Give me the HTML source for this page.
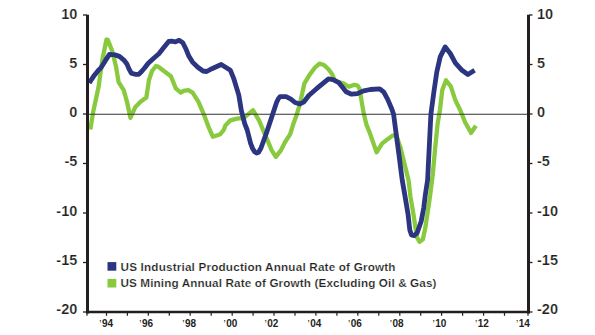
<!DOCTYPE html>
<html><head><meta charset="utf-8"><style>
html,body{margin:0;padding:0;background:#fff;width:595px;height:335px;overflow:hidden}
svg{display:block}
text{font-family:"Liberation Sans",sans-serif;font-weight:bold;fill:#231f20}
.yl{font-size:14.5px;stroke:#fff;stroke-width:0.2px}
.xl{font-size:10px}
.lg{font-size:11.7px;stroke:#fff;stroke-width:0.2px}
</style></head><body>
<svg width="595" height="335" viewBox="0 0 595 335">
<polyline points="90.3,129.5 93.2,111.9 95.9,99.3 98.6,86.8 99.8,78 102.5,59 106.5,39.5 107.8,39.8 112.2,51 116.1,67 118.6,82.1 123.7,90.1 127,101.8 130.4,117.8 135.4,106.9 140.5,101.8 146.3,97.6 148,86.7 148.9,80.4 152,71 156,66 158,66.5 164.9,71.8 170.9,76.3 175.8,88.4 180.8,92.6 183.4,90.9 188.4,90.1 192.6,92.6 198.5,101.8 203.5,113.6 208.6,127.1 212.8,136.7 220.3,134.2 223.7,130 225.4,125.4 230.4,120.3 237.1,118.7 243.9,117.8 248.9,113.6 253.1,110.3 259,120.3 264,132.1 267.4,140.1 271.6,150.2 275.8,156.9 280.9,150.4 285.1,142 290.1,134.4 293.5,123.5 296,116.8 299.2,106.3 301.6,96.2 304.3,83.7 309.7,74.6 315,67.5 319.5,63.6 324,65 328.5,69.3 332,74 334.7,80.2 338.1,82.1 343.4,83.4 348.8,86.8 354.2,84.8 357.6,85.5 359.6,88.8 360.9,96.9 362.9,109 364.1,115.1 366.6,125.2 369.5,132.1 376.6,152.3 382,143.6 387.3,139.4 392.7,135.5 396.1,134.8 400.5,147.8 408.5,180 410.5,197 413,211.4 415.5,227.8 417.1,237.7 419.6,241.8 422.9,239.3 425.3,227.8 427.8,211.4 430.2,195 432.7,175 435.2,147.8 437.6,123.9 440,109.6 442.3,90.1 446,80.3 450.8,86.3 455.5,100.6 460.3,110.2 465.1,122.2 471.1,132.9 475.9,125.7" fill="none" stroke="#89c93e" stroke-width="4.3" stroke-linejoin="round" stroke-linecap="butt"/>
<line x1="89" y1="114.2" x2="527" y2="114.2" stroke="#333" stroke-width="1.1"/>
<polyline points="89.2,83 94.4,75.2 98.4,70.3 101.1,67.6 105.2,60.9 109.4,54.4 114.9,54.9 119.4,56.4 123.9,60.1 126.9,63.9 129.1,69.1 131.3,73.1 135.1,74.3 138.8,74.3 141.8,71.3 144.8,67.8 148,63.5 153.7,58.3 158.9,53.8 163.4,48 168.7,41.5 171.6,41.2 175.4,41.9 179.1,40.3 182.8,42.7 185.8,48.7 188.8,56.1 192.5,62.1 197.8,67.3 203,71 206.7,71.5 211.9,68.7 221.2,64.5 230.4,70.3 233.8,78.7 238.8,95.1 241.3,110.3 244.7,123.7 247.2,130 250.6,143.4 252.6,148.5 254.6,151.8 256.5,153 258.6,152.2 261,148 266.3,133.4 271.5,117.7 276.7,102.1 278.5,98.5 280.1,96.7 286.1,96.7 290.9,99.1 295,102.5 299.9,104 304,101.8 308.8,95.5 314.8,90.2 318.7,86.9 328.5,78.9 333,79.6 338.9,82.7 346.1,91.8 351.5,94.2 357.4,93.7 363.6,90.8 370.3,89.5 379.7,88.8 383.8,92.2 387.8,99.6 391.8,109 393.6,114.3 395.8,131.1 399.3,157.4 402.2,180 404.8,195 408.1,214.7 409.8,230 411.5,235 414,235.6 417.1,233 421.2,221.2 423.7,208.1 425.3,195 427.6,180 429.2,147.8 430.9,114.3 433.9,91.8 436.8,72 440.2,56.9 445.2,46.9 450.3,53.5 455.3,62.8 462,70.3 467.9,74.5 474.6,70.3" fill="none" stroke="#2b3580" stroke-width="4.8" stroke-linejoin="round" stroke-linecap="butt"/>
<line x1="87.5" y1="14.8" x2="87.5" y2="313.5" stroke="#231f20" stroke-width="3"/>
<line x1="528.5" y1="14.8" x2="528.5" y2="313.5" stroke="#231f20" stroke-width="3"/>
<line x1="86" y1="312" x2="530" y2="312" stroke="#231f20" stroke-width="2.6"/>
<line x1="83" y1="15.0" x2="87" y2="15.0" stroke="#231f20" stroke-width="1.3"/>
<line x1="529" y1="15.0" x2="532.5" y2="15.0" stroke="#231f20" stroke-width="1.3"/>
<text x="77.3" y="19.15" text-anchor="end" class="yl">10</text>
<text x="537" y="19.15" class="yl">10</text>
<line x1="83" y1="64.5" x2="87" y2="64.5" stroke="#231f20" stroke-width="1.3"/>
<line x1="529" y1="64.5" x2="532.5" y2="64.5" stroke="#231f20" stroke-width="1.3"/>
<text x="77.3" y="68.45" text-anchor="end" class="yl">5</text>
<text x="537" y="68.45" class="yl">5</text>
<line x1="83" y1="114.0" x2="87" y2="114.0" stroke="#231f20" stroke-width="1.3"/>
<line x1="529" y1="114.0" x2="532.5" y2="114.0" stroke="#231f20" stroke-width="1.3"/>
<text x="77.3" y="117.35" text-anchor="end" class="yl">0</text>
<text x="537" y="117.35" class="yl">0</text>
<line x1="83" y1="163.5" x2="87" y2="163.5" stroke="#231f20" stroke-width="1.3"/>
<line x1="529" y1="163.5" x2="532.5" y2="163.5" stroke="#231f20" stroke-width="1.3"/>
<text x="77.3" y="166.45" text-anchor="end" class="yl">-5</text>
<text x="537" y="166.45" class="yl">-5</text>
<line x1="83" y1="213.0" x2="87" y2="213.0" stroke="#231f20" stroke-width="1.3"/>
<line x1="529" y1="213.0" x2="532.5" y2="213.0" stroke="#231f20" stroke-width="1.3"/>
<text x="77.3" y="215.75" text-anchor="end" class="yl">-10</text>
<text x="537" y="215.75" class="yl">-10</text>
<line x1="83" y1="262.5" x2="87" y2="262.5" stroke="#231f20" stroke-width="1.3"/>
<line x1="529" y1="262.5" x2="532.5" y2="262.5" stroke="#231f20" stroke-width="1.3"/>
<text x="77.3" y="264.55" text-anchor="end" class="yl">-15</text>
<text x="537" y="264.55" class="yl">-15</text>
<line x1="83" y1="312.0" x2="87" y2="312.0" stroke="#231f20" stroke-width="1.3"/>
<line x1="529" y1="312.0" x2="532.5" y2="312.0" stroke="#231f20" stroke-width="1.3"/>
<text x="77.3" y="313.60" text-anchor="end" class="yl">-20</text>
<text x="537" y="313.60" class="yl">-20</text>
<line x1="87.0" y1="312" x2="87.0" y2="315.8" stroke="#231f20" stroke-width="1.2"/>
<line x1="106.5" y1="312" x2="106.5" y2="315.8" stroke="#231f20" stroke-width="1.2"/>
<line x1="127.4" y1="312" x2="127.4" y2="315.8" stroke="#231f20" stroke-width="1.2"/>
<line x1="148.3" y1="312" x2="148.3" y2="315.8" stroke="#231f20" stroke-width="1.2"/>
<line x1="169.3" y1="312" x2="169.3" y2="315.8" stroke="#231f20" stroke-width="1.2"/>
<line x1="190.2" y1="312" x2="190.2" y2="315.8" stroke="#231f20" stroke-width="1.2"/>
<line x1="211.2" y1="312" x2="211.2" y2="315.8" stroke="#231f20" stroke-width="1.2"/>
<line x1="232.2" y1="312" x2="232.2" y2="315.8" stroke="#231f20" stroke-width="1.2"/>
<line x1="253.1" y1="312" x2="253.1" y2="315.8" stroke="#231f20" stroke-width="1.2"/>
<line x1="274.0" y1="312" x2="274.0" y2="315.8" stroke="#231f20" stroke-width="1.2"/>
<line x1="295.0" y1="312" x2="295.0" y2="315.8" stroke="#231f20" stroke-width="1.2"/>
<line x1="315.9" y1="312" x2="315.9" y2="315.8" stroke="#231f20" stroke-width="1.2"/>
<line x1="336.9" y1="312" x2="336.9" y2="315.8" stroke="#231f20" stroke-width="1.2"/>
<line x1="357.8" y1="312" x2="357.8" y2="315.8" stroke="#231f20" stroke-width="1.2"/>
<line x1="378.8" y1="312" x2="378.8" y2="315.8" stroke="#231f20" stroke-width="1.2"/>
<line x1="399.8" y1="312" x2="399.8" y2="315.8" stroke="#231f20" stroke-width="1.2"/>
<line x1="420.7" y1="312" x2="420.7" y2="315.8" stroke="#231f20" stroke-width="1.2"/>
<line x1="441.6" y1="312" x2="441.6" y2="315.8" stroke="#231f20" stroke-width="1.2"/>
<line x1="462.6" y1="312" x2="462.6" y2="315.8" stroke="#231f20" stroke-width="1.2"/>
<line x1="483.6" y1="312" x2="483.6" y2="315.8" stroke="#231f20" stroke-width="1.2"/>
<line x1="504.5" y1="312" x2="504.5" y2="315.8" stroke="#231f20" stroke-width="1.2"/>
<line x1="528.0" y1="312" x2="528.0" y2="315.8" stroke="#231f20" stroke-width="1.2"/>
<text x="106.2" y="327" text-anchor="middle" class="xl"><tspan font-weight="normal" dy="0.8">’</tspan><tspan dx="0.5" dy="-0.8">94</tspan></text>
<text x="146.1" y="327" text-anchor="middle" class="xl"><tspan font-weight="normal" dy="0.8">’</tspan><tspan dx="0.5" dy="-0.8">96</tspan></text>
<text x="189.2" y="327" text-anchor="middle" class="xl"><tspan font-weight="normal" dy="0.8">’</tspan><tspan dx="0.5" dy="-0.8">98</tspan></text>
<text x="230.5" y="327" text-anchor="middle" class="xl"><tspan font-weight="normal" dy="0.8">’</tspan><tspan dx="0.5" dy="-0.8">00</tspan></text>
<text x="271.5" y="327" text-anchor="middle" class="xl"><tspan font-weight="normal" dy="0.8">’</tspan><tspan dx="0.5" dy="-0.8">02</tspan></text>
<text x="314.4" y="327" text-anchor="middle" class="xl"><tspan font-weight="normal" dy="0.8">’</tspan><tspan dx="0.5" dy="-0.8">04</tspan></text>
<text x="355.0" y="327" text-anchor="middle" class="xl"><tspan font-weight="normal" dy="0.8">’</tspan><tspan dx="0.5" dy="-0.8">06</tspan></text>
<text x="396.7" y="327" text-anchor="middle" class="xl"><tspan font-weight="normal" dy="0.8">’</tspan><tspan dx="0.5" dy="-0.8">08</tspan></text>
<text x="439.5" y="327" text-anchor="middle" class="xl"><tspan font-weight="normal" dy="0.8">’</tspan><tspan dx="0.5" dy="-0.8">10</tspan></text>
<text x="482.0" y="327" text-anchor="middle" class="xl"><tspan font-weight="normal" dy="0.8">’</tspan><tspan dx="0.5" dy="-0.8">12</tspan></text>
<text x="523.0" y="327" text-anchor="middle" class="xl"><tspan font-weight="normal" dy="0.8">’</tspan><tspan dx="0.5" dy="-0.8">14</tspan></text>
<rect x="107.5" y="262.1" width="8.8" height="8.6" fill="#2b3580"/>
<rect x="107.5" y="278.9" width="8.8" height="8.6" fill="#89c93e"/>
<text x="120.5" y="270.5" class="lg" textLength="275" lengthAdjust="spacing">US Industrial Production Annual Rate of Growth</text>
<text x="120.5" y="287" class="lg" textLength="316" lengthAdjust="spacing">US Mining Annual Rate of Growth (Excluding Oil &amp; Gas)</text>
</svg>
</body></html>
